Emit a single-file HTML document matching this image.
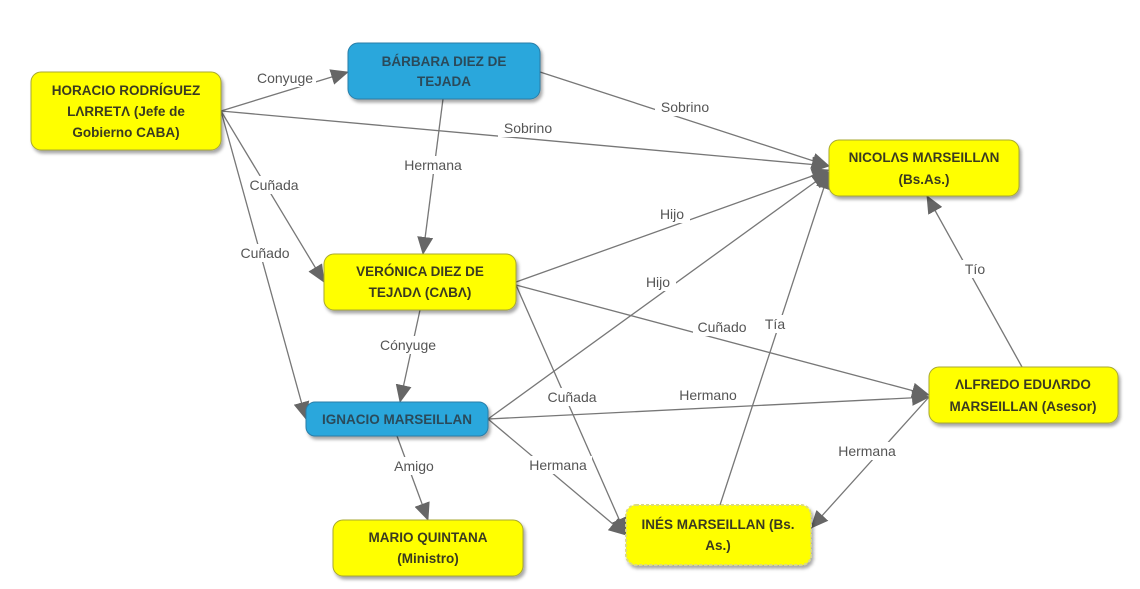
<!DOCTYPE html>
<html><head><meta charset="utf-8"><style>
body{margin:0;background:#fff}
svg{display:block}
.l{font-family:"Liberation Sans",sans-serif;font-size:14px;fill:#555}
.n{font-family:"Liberation Sans",sans-serif;font-size:13.5px;font-weight:bold;fill:#3a3a20}
.nb{font-family:"Liberation Sans",sans-serif;font-size:13.5px;font-weight:bold;fill:#2a4a5a}
</style></head><body>
<svg width="1140" height="589" viewBox="0 0 1140 589">
<defs>
<marker id="b" markerWidth="18" markerHeight="16" refX="17" refY="8" orient="auto" markerUnits="userSpaceOnUse" viewBox="0 0 18 16"><path d="M0,0 L18,8 L0,16z" fill="#666"/></marker>
<filter id="s" x="-10%" y="-10%" width="130%" height="140%"><feDropShadow dx="2" dy="3" stdDeviation="1.5" flood-color="#000" flood-opacity="0.35"/></filter>
</defs>
<g stroke="#777" stroke-width="1.3" fill="none" marker-end="url(#b)">
<line x1="221" y1="111" x2="348" y2="72"/>
<line x1="540" y1="72" x2="829" y2="166"/>
<line x1="221" y1="111" x2="829" y2="166"/>
<line x1="443" y1="99" x2="423" y2="254"/>
<line x1="221" y1="111" x2="324" y2="282"/>
<line x1="221" y1="111" x2="306" y2="419"/>
<line x1="516" y1="282" x2="829" y2="170"/>
<line x1="488" y1="419" x2="829" y2="172"/>
<line x1="516" y1="285" x2="929" y2="395"/>
<line x1="516" y1="285" x2="626" y2="535"/>
<line x1="420" y1="310" x2="400" y2="402"/>
<line x1="488" y1="419" x2="929" y2="397"/>
<line x1="488" y1="419" x2="626" y2="535"/>
<line x1="397" y1="436" x2="428" y2="520"/>
<line x1="720" y1="505" x2="829" y2="172"/>
<line x1="1022" y1="367" x2="927" y2="196"/>
<line x1="929" y1="397" x2="811" y2="528"/>
</g>
<g class="l" text-anchor="middle">
<g fill="#fff" stroke="none">
<rect x="254" y="69" width="62" height="18"/><rect x="655" y="98" width="60" height="18"/><rect x="498" y="119" width="60" height="18"/>
<rect x="400" y="156" width="68" height="18"/><rect x="246" y="176" width="56" height="18"/><rect x="237" y="244" width="56" height="18"/>
<rect x="656" y="205" width="34" height="18"/><rect x="642" y="273" width="34" height="18"/><rect x="693" y="318" width="58" height="18"/>
<rect x="544" y="388" width="56" height="18"/><rect x="376" y="336" width="64" height="18"/><rect x="674" y="386" width="70" height="18"/>
<rect x="524" y="456" width="68" height="18"/><rect x="390" y="457" width="48" height="18"/><rect x="762" y="315" width="28" height="18"/>
<rect x="962" y="260" width="28" height="18"/><rect x="834" y="442" width="66" height="18"/>
</g>
<text x="285" y="83">Conyuge</text>
<text x="685" y="112">Sobrino</text>
<text x="528" y="133">Sobrino</text>
<text x="433" y="170">Hermana</text>
<text x="274" y="190">Cuñada</text>
<text x="265" y="258">Cuñado</text>
<text x="672" y="219">Hijo</text>
<text x="658" y="287">Hijo</text>
<text x="722" y="332">Cuñado</text>
<text x="572" y="402">Cuñada</text>
<text x="408" y="350">Cónyuge</text>
<text x="708" y="400">Hermano</text>
<text x="558" y="470">Hermana</text>
<text x="414" y="471">Amigo</text>
<text x="775" y="329">Tía</text>
<text x="975" y="274">Tío</text>
<text x="867" y="456">Hermana</text>
</g>
<g filter="url(#s)">
<rect x="31" y="72" width="190" height="78" rx="10" fill="#ffff00" stroke="#a8a830"/>
<rect x="348" y="43" width="192" height="56" rx="10" fill="#29a7dc" stroke="#2a7ea8"/>
<rect x="829" y="140" width="190" height="56" rx="10" fill="#ffff00" stroke="#a8a830"/>
<rect x="324" y="254" width="192" height="56" rx="10" fill="#ffff00" stroke="#a8a830"/>
<rect x="306" y="402" width="182" height="34" rx="9" fill="#29a7dc" stroke="#2a7ea8"/>
<rect x="929" y="367" width="189" height="56" rx="10" fill="#ffff00" stroke="#a8a830"/>
<rect x="626" y="505" width="185" height="60" rx="10" fill="#ffff00" stroke="#dada80" stroke-dasharray="3,2" stroke-width="2"/>
<rect x="333" y="520" width="190" height="56" rx="10" fill="#ffff00" stroke="#a8a830"/>
</g>
<g text-anchor="middle">
<text class="n" x="126" y="95">HORACIO RODRÍGUEZ</text>
<text class="n" x="126" y="116">LΛRRETΛ (Jefe de</text>
<text class="n" x="126" y="137">Gobierno CABA)</text>
<text class="nb" x="444" y="66">BÁRBARA DIEZ DE</text>
<text class="nb" x="444" y="86">TEJADA</text>
<text class="n" x="924" y="162">NICOLΛS MΛRSEILLΛN</text>
<text class="n" x="924" y="184">(Bs.As.)</text>
<text class="n" x="420" y="276">VERÓNICA DIEZ DE</text>
<text class="n" x="420" y="297">TEJΛDΛ (CΛBΛ)</text>
<text class="nb" x="397" y="424">IGNACIO MARSEILLAN</text>
<text class="n" x="1023" y="389">ΛLFREDO EDUΛRDO</text>
<text class="n" x="1023" y="411">MARSEILLAN (Asesor)</text>
<text class="n" x="718" y="529">INÉS MARSEILLAN (Bs.</text>
<text class="n" x="718" y="550">As.)</text>
<text class="n" x="428" y="542">MARIO QUINTANA</text>
<text class="n" x="428" y="563">(Ministro)</text>
</g>
</svg>
</body></html>
